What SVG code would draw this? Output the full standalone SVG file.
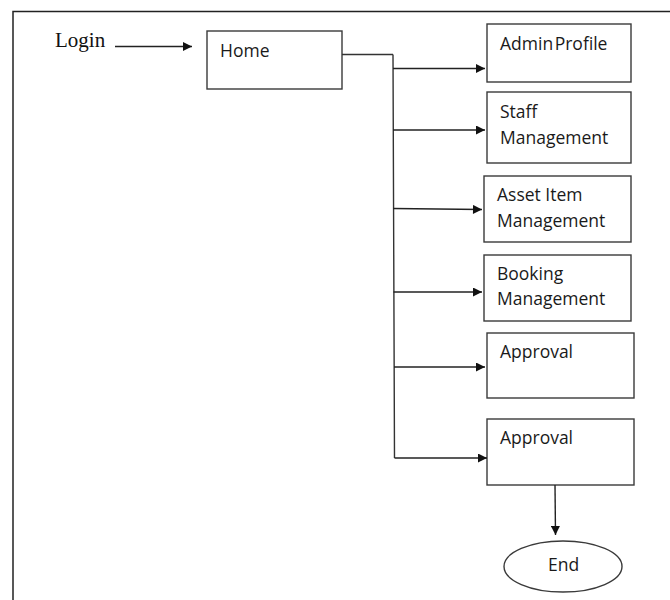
<svg xmlns="http://www.w3.org/2000/svg" width="670" height="600" viewBox="0 0 670 600">
  <defs>
    <marker id="arrow" viewBox="0 0 10 10" refX="10" refY="5" markerWidth="11" markerHeight="9" markerUnits="userSpaceOnUse" orient="auto">
      <path d="M0,0 L10,5 L0,10 Z" fill="#111"/>
    </marker>
    <style>
      .box { fill: #fff; stroke: #3a3a3a; stroke-width: 1.4; }
      .label { font-family: "Open Sans", "Noto Sans", sans-serif; font-size: 17.5px; fill: #1a1a1a; }
      .serif { font-family: "Liberation Serif", serif; font-size: 21px; fill: #111; }
      .wire { fill: none; stroke: #333; stroke-width: 1.4; }
      .arrow { fill: none; stroke: #222; stroke-width: 1.4; marker-end: url(#arrow); }
    </style>
  </defs>

  <rect width="670" height="600" fill="#fff"/>
  <!-- page frame -->
  <path d="M13,600 L13,11.5 L670,11.5" fill="none" stroke="#222" stroke-width="1.5"/>

  <g id="login">
    <text class="serif" x="55" y="46.5">Login</text>
  </g>

  <g id="home">
    <rect class="box" x="207" y="31" width="135" height="58"/>
    <text class="label" x="220" y="56.5">Home</text>
  </g>

  <g id="admin-profile">
    <rect class="box" x="487" y="24" width="144" height="58"/>
    <text class="label" x="500" y="50" word-spacing="-3">Admin Profile</text>
  </g>

  <g id="staff-management">
    <rect class="box" x="487" y="92" width="144" height="71"/>
    <text class="label" x="500" y="118">Staff</text>
    <text class="label" x="500" y="144">Management</text>
  </g>

  <g id="asset-item-management">
    <rect class="box" x="484" y="176" width="147" height="66"/>
    <text class="label" x="497" y="200.5">Asset Item</text>
    <text class="label" x="497" y="227">Management</text>
  </g>

  <g id="booking-management">
    <rect class="box" x="484" y="255" width="147" height="66"/>
    <text class="label" x="497" y="280">Booking</text>
    <text class="label" x="497" y="305">Management</text>
  </g>

  <g id="approval-1">
    <rect class="box" x="487" y="333" width="147" height="65"/>
    <text class="label" x="500" y="358">Approval</text>
  </g>

  <g id="approval-2">
    <rect class="box" x="487" y="419" width="147" height="66"/>
    <text class="label" x="500" y="444">Approval</text>
  </g>

  <g id="end">
    <ellipse cx="563" cy="566.5" rx="59" ry="25.5" fill="#fff" stroke="#3a3a3a" stroke-width="1.4"/>
    <text class="label" x="548" y="571">End</text>
  </g>

  <g id="connectors">
    <line class="arrow" x1="115" y1="46.5" x2="192" y2="46.5"/>
    <!-- trunk from Home -->
    <path class="wire" d="M342,54.5 L393,54.5 M393,54.5 L394.5,458"/>
    <line class="arrow" x1="393" y1="68.5" x2="485" y2="68.5"/>
    <line class="arrow" x1="393" y1="130" x2="485" y2="130"/>
    <line class="arrow" x1="393" y1="208.5" x2="482" y2="209.5"/>
    <line class="arrow" x1="393.5" y1="292" x2="482" y2="292"/>
    <line class="arrow" x1="394" y1="367" x2="485" y2="367"/>
    <line class="arrow" x1="394.5" y1="458" x2="487" y2="458"/>
    <line class="arrow" x1="555" y1="485" x2="555.5" y2="535"/>
  </g>
</svg>
